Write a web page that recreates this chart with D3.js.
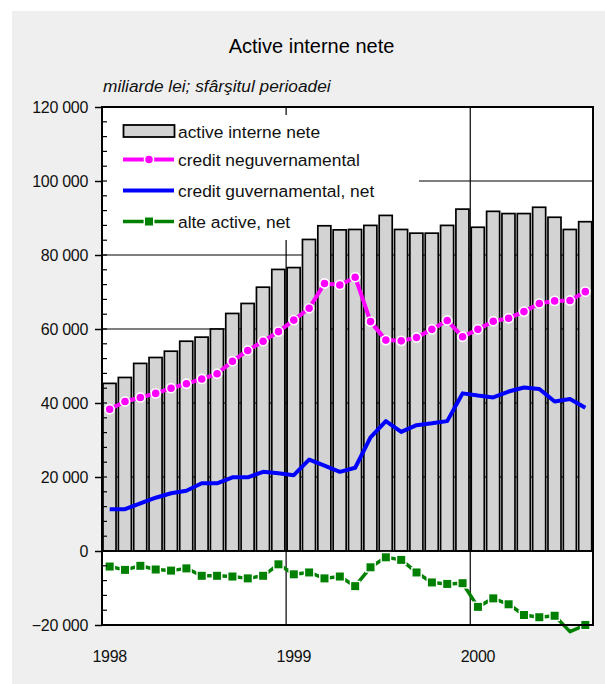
<!DOCTYPE html>
<html><head><meta charset="utf-8">
<script src="https://cdn.jsdelivr.net/npm/d3@7"></script>
<style>body{margin:0;background:#fff} svg{display:block;font-family:"Liberation Sans",Arial,sans-serif}</style>
</head><body><svg id="c" width="605" height="684"></svg>
<script>
const months = ["1998-01","1998-02","1998-03","1998-04","1998-05","1998-06","1998-07","1998-08","1998-09","1998-10","1998-11","1998-12",
"1999-01","1999-02","1999-03","1999-04","1999-05","1999-06","1999-07","1999-08","1999-09","1999-10","1999-11","1999-12",
"2000-01","2000-02","2000-03","2000-04","2000-05","2000-06","2000-07","2000-08"];
const yearLabels = ["1998","1999","2000"];
const yearStarts = ["1998-01","1999-01","2000-01"];
const activeInterneNete = [45300,46900,50700,52300,54000,56700,57800,60000,64200,66900,71300,76100,76600,84200,87900,86800,86900,88000,90700,86900,85900,85900,88000,92400,87500,91800,91200,91200,92900,90200,86900,89000];
const creditNeguvernamental = [38300,40400,41500,42600,44000,45200,46500,47900,51300,54200,56700,59300,62400,65600,72300,71900,74000,62000,57000,56800,57700,59900,62300,57900,59900,62100,62900,64700,66900,67600,67700,70100];
const creditGuvernamental = [11300,11300,12900,14400,15600,16300,18300,18300,19900,19900,21400,21000,20500,24700,23100,21400,22500,30700,35100,32200,34000,34500,35100,42600,42000,41500,43100,44200,43800,40400,41100,38700];
const alteActive = [-4200,-5100,-4000,-5000,-5300,-4700,-6700,-6700,-6900,-7400,-6700,-3600,-6300,-5800,-7400,-6900,-9500,-4400,-1700,-2400,-5800,-8500,-8900,-8700,-15100,-12800,-14400,-17300,-17900,-17500,-21800,-20000];
const yTicks = [-20000,0,20000,40000,60000,80000,100000,120000];
const legendLabels = ["active interne nete","credit neguvernamental","credit guvernamental, net","alte active, net"];

const svg = d3.select("#c");
const L=102,R=593,T=107,B=625;
svg.append("rect").attr("x",12).attr("y",11).attr("width",593).attr("height",673).attr("fill","#efefef");
const x = d3.scaleBand().domain(months).range([L,R]).padding(0);
const y = d3.scaleLinear().domain([-20000,120000]).range([B,T]);
const cx = m => x(m)+x.bandwidth()/2;

svg.append("rect").attr("x",L).attr("y",T).attr("width",R-L).attr("height",B-T).attr("fill","#fff");
// gridlines
svg.append("g").selectAll("line").data(yTicks).join("line")
  .attr("x1",L).attr("x2",R).attr("y1",d=>y(d)).attr("y2",d=>y(d)).attr("stroke","#000").attr("stroke-width",1.2);
svg.append("g").selectAll("line").data(yearStarts.slice(1)).join("line")
  .attr("x1",d=>x(d)).attr("x2",d=>x(d)).attr("y1",T).attr("y2",B).attr("stroke","#000").attr("stroke-width",1.2);
// legend background
svg.append("rect").attr("x",L+1).attr("y",115).attr("width",316).attr("height",125).attr("fill","#fff");
// bars
svg.append("g").selectAll("rect").data(months).join("rect")
  .attr("x",m=>x(m)+1).attr("width",x.bandwidth()-2.3)
  .attr("y",(m,i)=>y(activeInterneNete[i])).attr("height",(m,i)=>y(0)-y(activeInterneNete[i]))
  .attr("fill","#d3d3d3").attr("stroke","#000").attr("stroke-width",1.7);
// zero line
svg.append("line").attr("x1",L).attr("x2",R).attr("y1",y(0)).attr("y2",y(0)).attr("stroke","#000").attr("stroke-width",1.5);

const line = arr => d3.line().x((d,i)=>cx(months[i])).y(d=>y(d))(arr);
svg.append("path").attr("d",line(creditGuvernamental)).attr("fill","none").attr("stroke","#0000ff").attr("stroke-width",4).attr("stroke-linejoin","round");
svg.append("path").attr("d",line(creditNeguvernamental)).attr("fill","none").attr("stroke","#ff00ff").attr("stroke-width",4).attr("stroke-linejoin","round");
svg.append("g").selectAll("circle").data(creditNeguvernamental).join("circle")
  .attr("cx",(d,i)=>cx(months[i])).attr("cy",d=>y(d)).attr("r",4.6)
  .attr("fill","#ff00ff").attr("stroke","#fff").attr("stroke-width",1.6);
svg.append("path").attr("d",line(alteActive)).attr("fill","none").attr("stroke","#008000").attr("stroke-width",3.5).attr("stroke-linejoin","round");
svg.append("g").selectAll("rect").data(alteActive.map((v,i)=>({v,m:months[i]})).filter(d=>d.v>=-20000)).join("rect")
  .attr("x",d=>cx(d.m)-4.7).attr("y",d=>y(d.v)-4.7).attr("width",9.4).attr("height",9.4)
  .attr("fill","#008000").attr("stroke","#fff").attr("stroke-width",1.4);

// minor ticks
svg.append("g").selectAll("line").data(d3.range(-20000,120001,4000)).join("line")
  .attr("x1",L).attr("x2",L+5).attr("y1",d=>y(d)).attr("y2",d=>y(d)).attr("stroke","#000").attr("stroke-width",1.2);
// border
svg.append("rect").attr("x",L).attr("y",T).attr("width",R-L).attr("height",B-T).attr("fill","none").attr("stroke","#000").attr("stroke-width",2);

const loc = d3.formatLocale({decimal:",",thousands:" ",grouping:[3],currency:["",""],minus:"\u2212"});
const fmt = loc.format(",");
const ya = svg.append("g").attr("transform",`translate(${L},0)`)
  .call(d3.axisLeft(y).tickValues(yTicks).tickFormat(fmt).tickSizeInner(7).tickSizeOuter(0).tickPadding(7));
ya.select(".domain").remove();
ya.selectAll("line").attr("stroke","#000").attr("stroke-width",1.5);
ya.selectAll("text").attr("font-size",16).attr("fill","#111").attr("font-family","Liberation Sans, Arial, sans-serif").attr("letter-spacing","-0.3");

const xa = svg.append("g").attr("transform",`translate(0,${B})`)
  .call(d3.axisBottom(x).tickValues(yearStarts).tickFormat((d,i)=>yearLabels[i]).tickSize(0).tickPadding(26));
xa.select(".domain").remove();
xa.selectAll("text").attr("font-size",16).attr("fill","#111").attr("font-family","Liberation Sans, Arial, sans-serif").attr("letter-spacing","-0.3");

svg.append("text").attr("x",311.5).attr("y",53).attr("text-anchor","middle").attr("font-size",20).attr("fill","#000").text("Active interne nete");
svg.append("text").attr("x",103).attr("y",92).attr("font-size",17.3).attr("font-style","italic").attr("fill","#111").text("miliarde lei; sfârşitul perioadei");

// legend
const lg = svg.append("g");
const ly = [131,159.5,190.5,221.5];
lg.append("rect").attr("x",123.5).attr("y",125).attr("width",51).attr("height",12).attr("fill","#d3d3d3").attr("stroke","#000").attr("stroke-width",1.8);
lg.append("line").attr("x1",123).attr("x2",174).attr("y1",ly[1]).attr("y2",ly[1]).attr("stroke","#ff00ff").attr("stroke-width",4);
lg.append("circle").attr("cx",149).attr("cy",ly[1]).attr("r",4.6).attr("fill","#ff00ff").attr("stroke","#fff").attr("stroke-width",1.6);
lg.append("line").attr("x1",123).attr("x2",174).attr("y1",ly[2]).attr("y2",ly[2]).attr("stroke","#0000ff").attr("stroke-width",4);
lg.append("line").attr("x1",123).attr("x2",174).attr("y1",ly[3]).attr("y2",ly[3]).attr("stroke","#008000").attr("stroke-width",3.5);
lg.append("rect").attr("x",144.3).attr("y",ly[3]-4.7).attr("width",9.4).attr("height",9.4).attr("fill","#008000").attr("stroke","#fff").attr("stroke-width",1.4);
lg.selectAll("text").data(legendLabels).join("text")
  .attr("x",178).attr("y",(d,i)=>ly[i]+6.5).attr("font-size",17.4).attr("fill","#111").text(d=>d);
</script></body></html>
